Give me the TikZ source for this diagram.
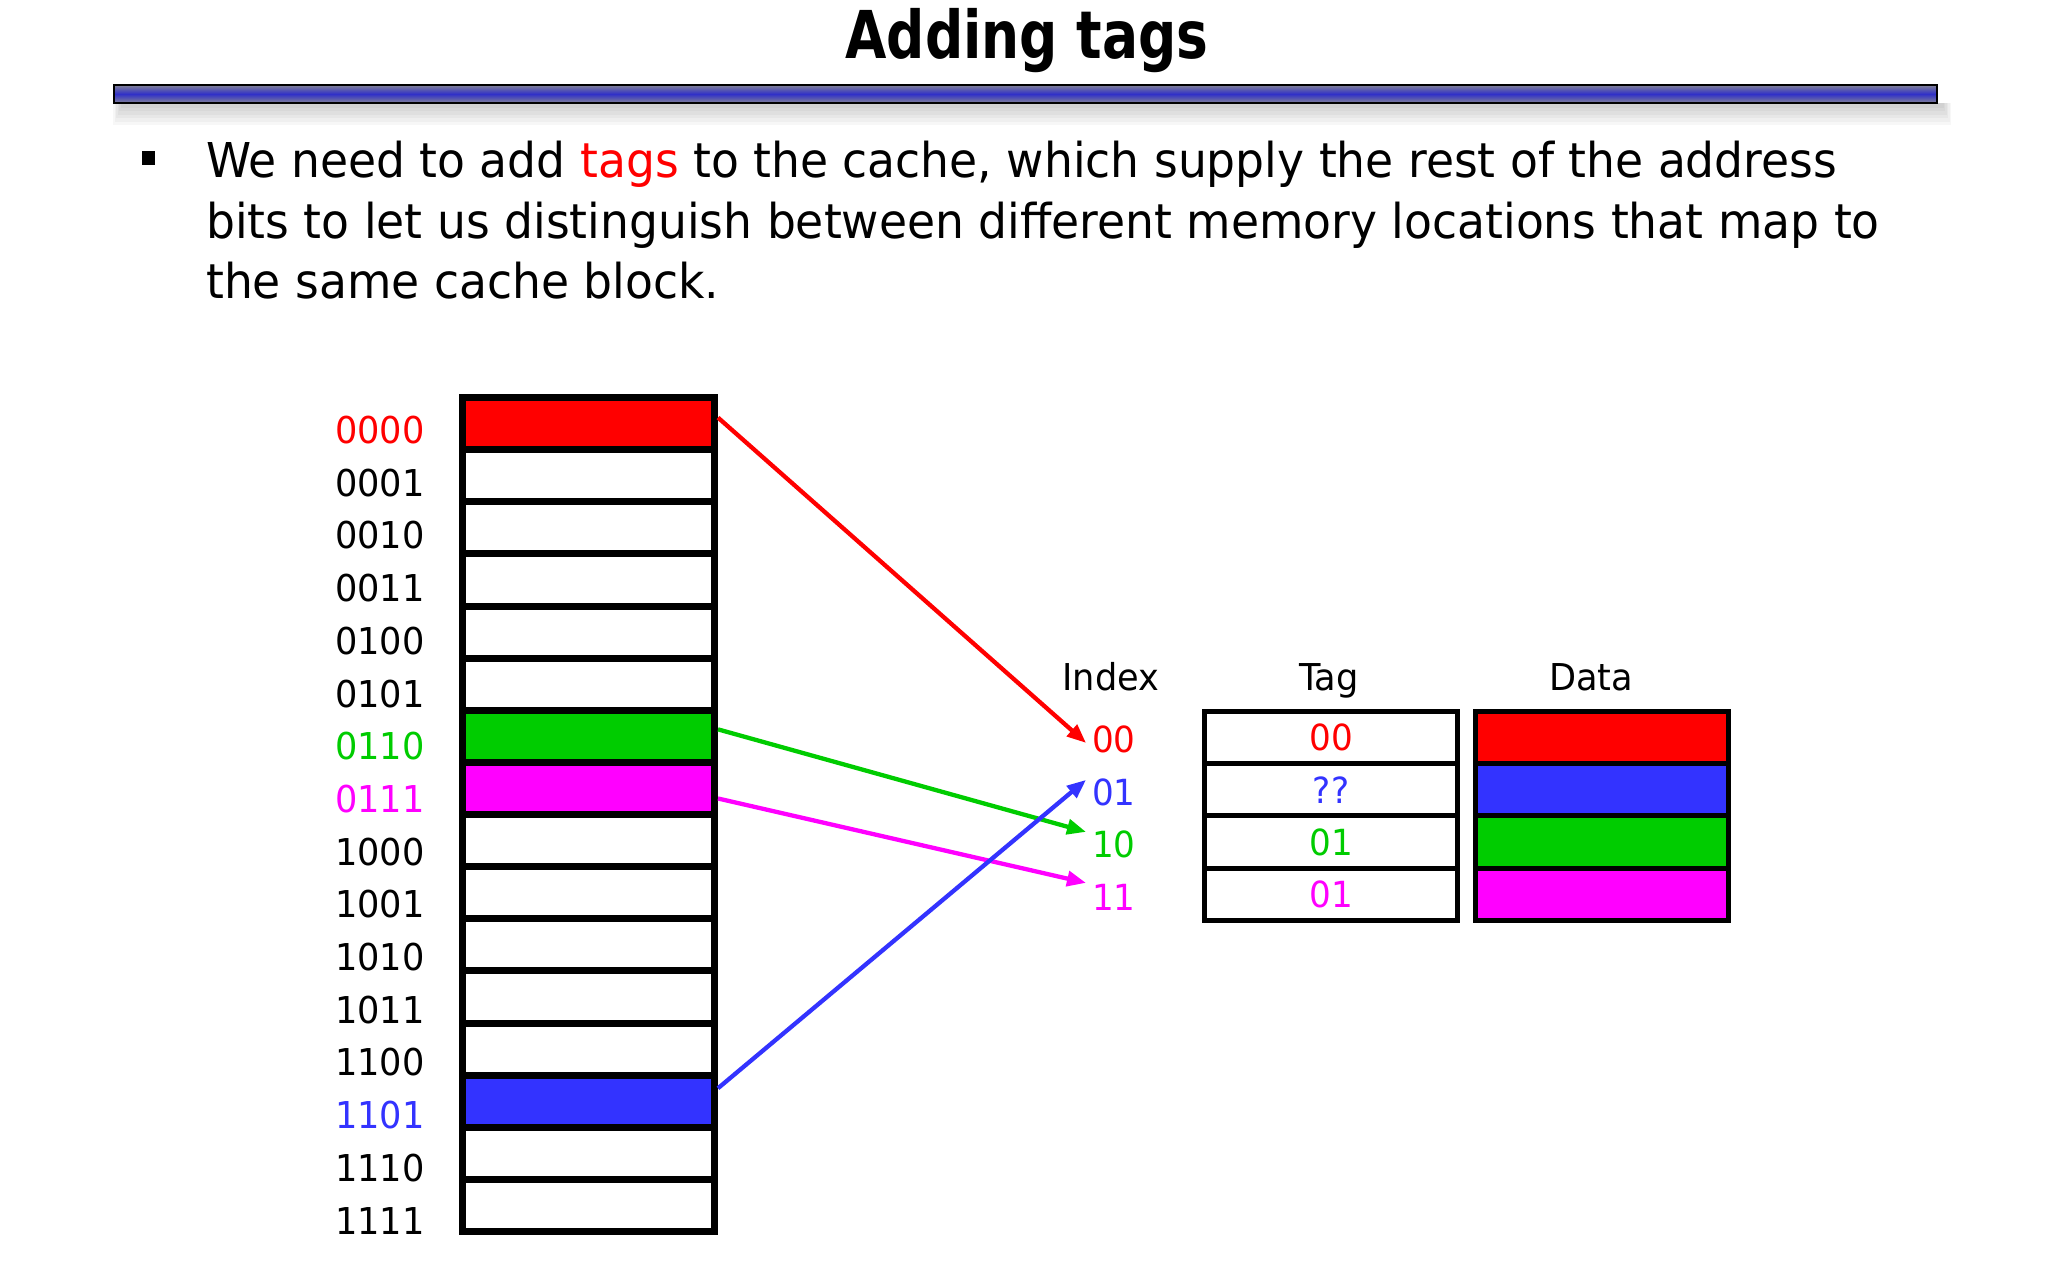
\documentclass[tikz,border=0pt]{standalone}
\usepackage{fontspec}
\setmainfont{DejaVu Sans}[FakeStretch=0.95]
\newfontfamily\titlefont{DejaVu Sans}[FakeStretch=0.81]
\usetikzlibrary{arrows.meta,calc}
\definecolor{cred}{RGB}{255,0,0}
\definecolor{cgreen}{RGB}{0,204,0}
\definecolor{cmag}{RGB}{255,0,255}
\definecolor{cblue}{RGB}{51,51,255}
\definecolor{barblue}{RGB}{48,48,200}
\definecolor{bargray}{RGB}{130,130,150}
\begin{document}
\begin{tikzpicture}[x=1pt,y=-1pt,
  memrow/.style={draw=black, line width=7pt, minimum width=252pt, minimum height=52.125pt, inner sep=0pt},
  memlabel/.style={anchor=base west, inner sep=0pt, font=\fontsize{37}{44}\selectfont},
  cacherow/.style={draw=black, line width=5pt, minimum width=253pt, minimum height=52.25pt, inner sep=0pt, font=\fontsize{36}{43}\selectfont},
  idxlabel/.style={anchor=base west, inner sep=0pt, font=\fontsize{36}{43}\selectfont},
  header/.style={anchor=base, inner sep=0pt, font=\fontsize{37}{44}\selectfont},
  bodytext/.style={anchor=base west, inner sep=0pt, font=\fontsize{48}{58}\selectfont},
  arr/.style={line width=4.3pt, -{Triangle[length=19pt,width=15pt]}}
]
\useasboundingbox (0,0) rectangle (2048,1280);
\fill[white] (0,0) rectangle (2048,1280);

% title
\node[anchor=base, inner sep=0pt, font=\titlefont\bfseries\fontsize{66}{78}\selectfont] (title) at (1027,58) {Adding tags};

% bar with shadow
\foreach \r in {1,...,6}
  \fill[black,opacity=0.03] (122-\r*1.5,103) rectangle (1942+\r*1.5,104+\r*3.5);
\shade[top color=bargray, bottom color=bargray, middle color=barblue] (114,85) rectangle (1937,103);
\draw[black, line width=1.5pt] (114,85) rectangle (1937,103);

% bullet text
\node[fill=black, minimum width=13pt, minimum height=14pt, inner sep=0pt] (bullet) at (148,158) {};
\node[bodytext] (b1) at (206,177) {We need to add \textcolor{cred}{tags} to the cache, which supply the rest of the address};
\node[bodytext] (b2) at (206,238) {bits to let us distinguish between different memory locations that map to};
\node[bodytext] (b3) at (206,298) {the same cache block.};

% memory column
\foreach \i/\c/\t/\tc in {0/cred/0000/cred, 1/white/0001/black, 2/white/0010/black, 3/white/0011/black,
  4/white/0100/black, 5/white/0101/black, 6/cgreen/0110/cgreen, 7/cmag/0111/cmag,
  8/white/1000/black, 9/white/1001/black, 10/white/1010/black, 11/white/1011/black,
  12/white/1100/black, 13/cblue/1101/cblue, 14/white/1110/black, 15/white/1111/black} {
  \node[memrow, fill=\c] (m\i) at (588.5, {423.6+52.125*\i}) {};
  \node[memlabel, text=\tc] (l\i) at (335, {443.5+52.7*\i}) {\t};
}

% headers
\node[header] (hidx) at (1111,690) {Index};
\node[header] (htag) at (1329,690) {Tag};
\node[header] (hdata) at (1591,690) {Data};

% index labels
\node[idxlabel, text=cred] (i0) at (1092,752) {00};
\node[idxlabel, text=cblue] (i1) at (1092,805) {01};
\node[idxlabel, text=cgreen] (i2) at (1092,857) {10};
\node[idxlabel, text=cmag] (i3) at (1092,910) {11};

% tag and data tables
\foreach \k/\c/\v in {0/cred/00, 1/cblue/??, 2/cgreen/01, 3/cmag/01} {
  \node[cacherow, text=\c, fill=white] (t\k) at (1331, {737.6+52.25*\k}) {\v};
  \node[cacherow, fill=\c] (d\k) at (1602, {737.6+52.25*\k}) {};
}

% arrows
\draw[arr, cred] ($(m0.east)+(0,-6)$) -- ($(i0.west)+(-6,4)$);
\draw[arr, cgreen] ($(m6.east)+(0,-7)$) -- ($(i2.west)+(-6,-12)$);
\draw[arr, cmag] ($(m7.east)+(0,10)$) -- ($(i3.west)+(-6,-14)$);
\draw[arr, cblue] ($(m13.east)+(0,-13)$) -- ($(i1.west)+(-6,-12)$);
\end{tikzpicture}
\end{document}
